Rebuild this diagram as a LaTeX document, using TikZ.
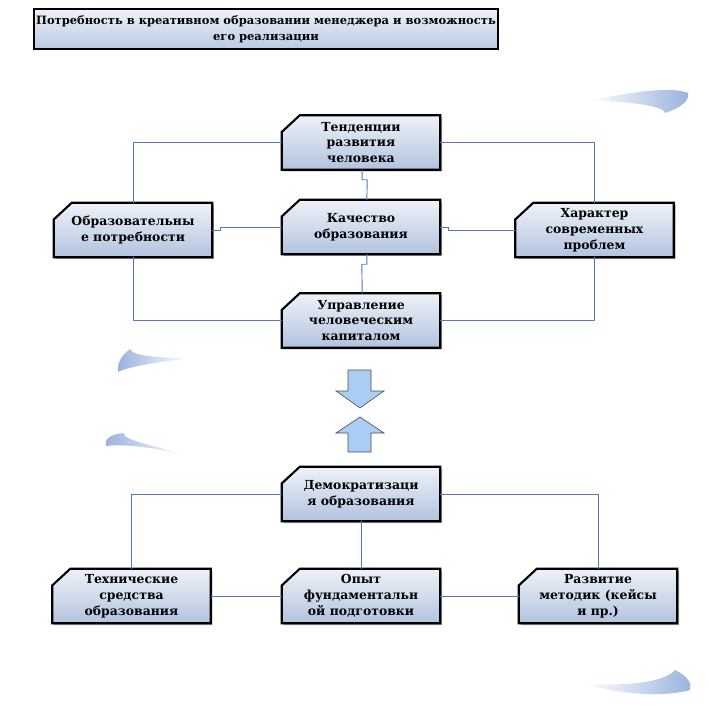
\documentclass[tikz,border=0pt]{standalone}
\usepackage{fontspec}
\setmainfont{DejaVu Serif}
\usetikzlibrary{backgrounds}

\definecolor{linkblue}{HTML}{5577C4}
\definecolor{boxtop}{HTML}{EEF2F8}
\definecolor{boxbot}{HTML}{B2C3DF}
\definecolor{arrowblue}{HTML}{A9CDF4}
\definecolor{swooshblue}{HTML}{98B2DE}

\newcommand\boxfont{\bfseries\fontsize{10.6}{13.6}\selectfont}
\newcommand\titlefont{\bfseries\fontsize{9.8}{13.8}\selectfont}

\newcommand\cutbox[1]{%
  \fill[black!35] ([shift={(1.5pt,-1.5pt-0.5cm)}]#1.north west) -- ([shift={(1.5pt+0.54cm,-1.5pt)}]#1.north west)
    -- ([shift={(1.5pt,-1.5pt)}]#1.north east) -- ([shift={(1.5pt,-1.5pt)}]#1.south east)
    -- ([shift={(1.5pt,-1.5pt)}]#1.south west) -- cycle;
  \shadedraw[boxline] ([yshift=-0.5cm]#1.north west) -- ([xshift=0.54cm]#1.north west) -- (#1.north east)
    -- (#1.south east) -- (#1.south west) -- cycle;}

\tikzset{
  block/.style={rectangle, minimum width=4.74cm, minimum height=1.62cm, inner sep=0pt,
    align=center, font=\boxfont},
  boxline/.style={draw=black, line width=1.8pt, line join=miter, top color=boxtop, bottom color=boxbot},
  titlebox/.style={rectangle, draw=black, line width=2pt,
    top color=boxtop, bottom color=boxbot!90,
    minimum width=13.92cm, minimum height=1.2cm, inner sep=0pt,
    align=center, font=\titlefont},
  link/.style={draw=linkblue, line width=0.8pt},
  bigarrow/.style={fill=arrowblue, draw=black!70, line width=0.5pt, line join=miter},
}

\begin{document}
\begin{tikzpicture}[x=0.03cm, y=-0.03cm]
  \useasboundingbox (0,0) rectangle (709,705);

  \shade[left color=white, right color=swooshblue] (588,101) .. controls (630,92) and (672,86) .. (688,93)
    .. controls (690,101) and (680,108) .. (665,113) .. controls (664,106) and (630,101) .. (588,101);
  \shade[left color=swooshblue, right color=white] (190,358) .. controls (160,362) and (130,366) .. (118,372)
    .. controls (117,362) and (122,355) .. (130,349) .. controls (132,356) and (160,358) .. (190,358);
  \shade[left color=swooshblue, right color=white] (188,456) .. controls (150,446) and (120,444) .. (106,446)
    .. controls (104,438) and (112,434) .. (124,433) .. controls (122,440) and (150,444) .. (188,456);
  \shade[left color=white, right color=swooshblue] (585,684) .. controls (630,686) and (665,682) .. (675,670)
    .. controls (688,676) and (692,684) .. (690,690) .. controls (660,698) and (620,694) .. (585,684);

  \node[titlebox] (title) at (266,29) {Потребность в креативном образовании менеджера и возможность\\его реализации};

  \node[block] (tend) at (361,142.5) {Тенденции\\развития\\человека};
  \node[block] (obr)  at (133,230) {Образовательны\\е потребности};
  \node[block] (kach) at (361,227) {Качество\\образования};
  \node[block] (khar) at (594.5,230) {Характер\\современных\\проблем};
  \node[block] (upr)  at (361,320.5) {Управление\\человеческим\\капиталом};

  \node[block] (dem)  at (361,494) {Демократизаци\\я образования};
  \node[block] (tech) at (131.5,596) {Технические\\средства\\образования};
  \node[block] (opyt) at (361,596) {Опыт\\фундаментальн\\ой подготовки};
  \node[block] (razv) at (598,596) {Развитие\\методик (кейсы\\и пр.)};

  \begin{pgfonlayer}{background}
    \foreach \b in {tend,obr,kach,khar,upr,dem,tech,opyt,razv}
      {\cutbox{\b}}
    \draw[link] (tend.west) -| (obr.north);
    \draw[link] (tend.east) -| (khar.north);
    \draw[link] (obr.south) |- (upr.west);
    \draw[link] (khar.south) |- (upr.east);
    \draw[link] (obr.east) -- ++(8,0) |- (kach.west);
    \draw[link] (kach.east) -- ++(8,0) |- (khar.west);
    \draw[link] ([xshift=1pt]tend.south) |- ++(5,10) -- ([xshift=5pt]kach.north);
    \draw[link] ([xshift=5pt]kach.south) |- ++(-5,10) -- ([xshift=1pt]upr.north);

    \draw[link] (dem.west) -| (tech.north);
    \draw[link] (dem.east) -| (razv.north);
    \draw[link] (dem.south) -- (opyt.north);
    \draw[link] (tech.east) -- (opyt.west);
    \draw[link] (opyt.east) -- (razv.west);
  \end{pgfonlayer}

  \draw[bigarrow] (348,370) -- (371,370) -- (371,391) -- (384,391) -- (360,408) -- (336,391) -- (348,391) -- cycle;
  \draw[bigarrow] (360,417) -- (384,433) -- (371,433) -- (371,452) -- (348,452) -- (348,433) -- (336,433) -- cycle;
\end{tikzpicture}
\end{document}
